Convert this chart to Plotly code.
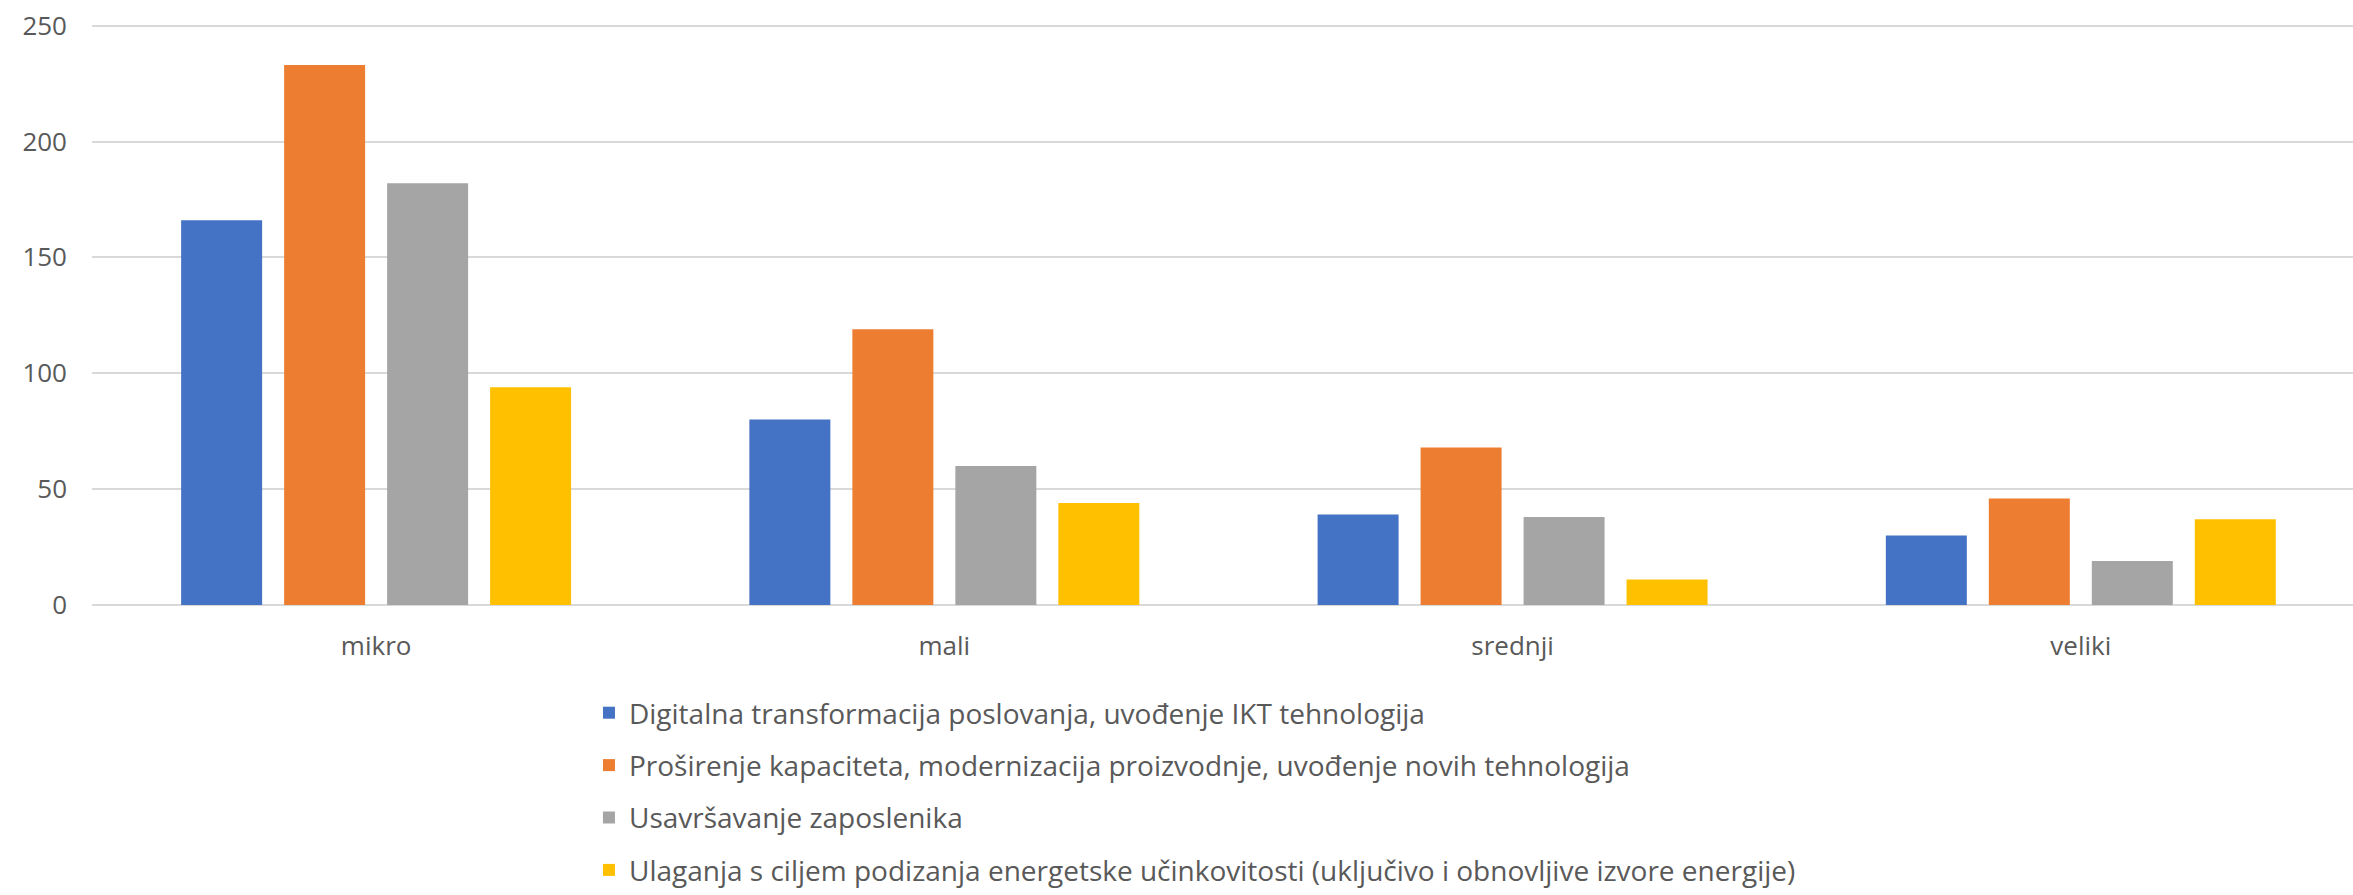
import plotly.graph_objects as go

categories = ["mikro", "mali", "srednji", "veliki"]

series_names = [
    "Digitalna transformacija poslovanja, uvođenje IKT tehnologija",
    "Proširenje kapaciteta, modernizacija proizvodnje, uvođenje novih tehnologija",
    "Usavršavanje zaposlenika",
    "Ulaganja s ciljem podizanja energetske učinkovitosti (uključivo i obnovljive izvore energije)",
]
digitalna = [166, 80, 39, 30]
prosirenje = [233, 119, 68, 46]
usavrsavanje = [182, 60, 38, 19]
ulaganja = [94, 44, 11, 37]

y_ticks = [0, 50, 100, 150, 200, 250]

COLORS = ["#4472C4", "#ED7D31", "#A5A5A5", "#FFC000"]
TEXT = "#595959"
GRID = "#D9D9D9"
FONT = "Open Sans"

fig = go.Figure()
for i, (name, vals) in enumerate(zip(series_names,
                                     [digitalna, prosirenje, usavrsavanje, ulaganja])):
    fig.add_trace(go.Bar(
        x=categories, y=vals, name=name, legendgroup=f"g{i}",
        marker=dict(color=COLORS[i], line=dict(width=0)),
    ))

fig.update_layout(
    width=2353, height=895,
    barmode="group", bargap=0.275, bargroupgap=0.2136,
    plot_bgcolor="white", paper_bgcolor="white",
    font=dict(family=FONT, size=26, color=TEXT),
    margin=dict(l=92, r=0, t=21, b=278),
    legend=dict(
        orientation="v", x=0.2198, xanchor="left", y=-0.1426, yanchor="top",
        tracegroupgap=13, font=dict(size=28, color=TEXT),
        bgcolor="rgba(0,0,0,0)",
    ),
    # the plot area runs a little past the right edge, like the source chart
    xaxis=dict(range=[-0.5, 3.479], showgrid=False, showline=False, ticks="",
               ticklabelstandoff=23, automargin=False),
    yaxis=dict(
        range=[0, 252], tickvals=y_ticks, showgrid=True, gridcolor=GRID,
        gridwidth=1.5, zeroline=True, zerolinecolor=GRID, zerolinewidth=1.5,
        showline=False, ticks="", ticklabelstandoff=24, automargin=False,
        ticklabeloverflow="allow",
    ),
)

fig.write_html("out.html", config={"displayModeBar": False},
               post_script="document.body.style.margin='0';")
